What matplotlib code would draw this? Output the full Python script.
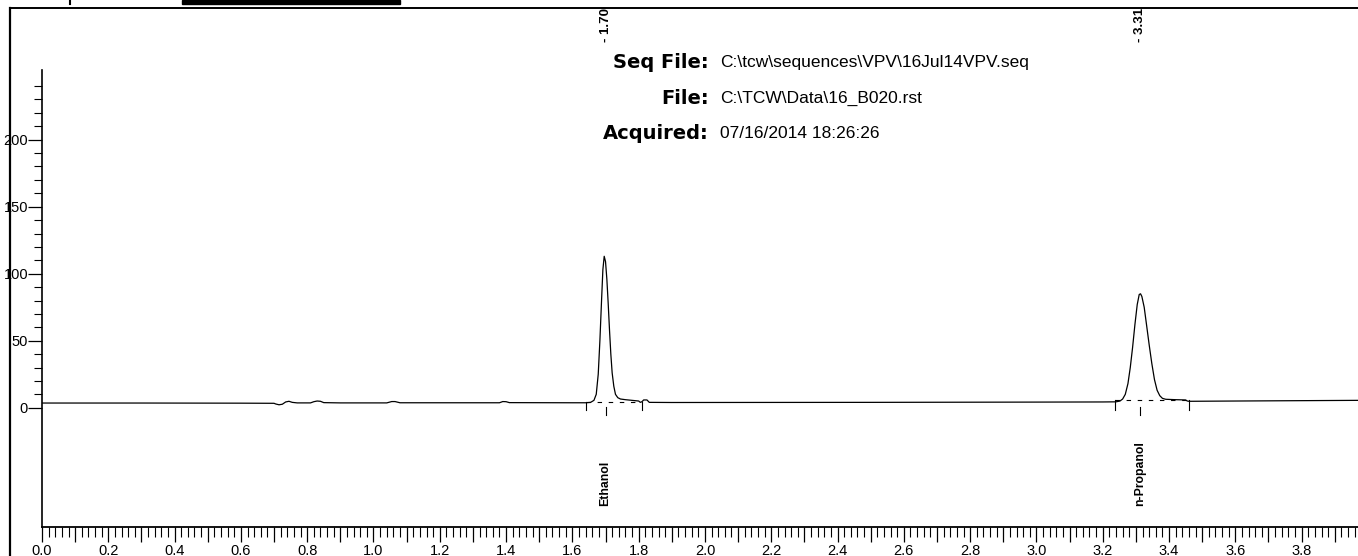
import matplotlib
matplotlib.use('Agg')
import matplotlib.pyplot as plt
import matplotlib.transforms as mtrans
from matplotlib.ticker import FixedLocator, FuncFormatter
from matplotlib.lines import Line2D
from matplotlib.patches import Rectangle

# ---------------- data ----------------
time_min = [0.00, 0.30, 0.60, 0.70, 0.705, 0.715, 0.725, 0.735, 0.745, 0.755, 0.77,
            0.81, 0.82, 0.83, 0.84, 0.85, 0.90, 1.04, 1.055, 1.065, 1.08, 1.38, 1.39,
            1.40, 1.41, 1.60, 1.64, 1.655, 1.665, 1.672, 1.678, 1.683, 1.688, 1.692,
            1.696, 1.700, 1.704, 1.708, 1.712, 1.716, 1.720, 1.725, 1.730, 1.737, 1.745,
            1.76, 1.78, 1.80, 1.805, 1.81, 1.815, 1.825, 1.832, 1.90, 2.50, 3.00, 3.20,
            3.24, 3.252, 3.26, 3.268, 3.276, 3.283, 3.29, 3.297, 3.304, 3.310, 3.314,
            3.318, 3.325, 3.332, 3.34, 3.348, 3.356, 3.364, 3.372, 3.38, 3.39, 3.42,
            3.45, 3.455, 3.46, 3.60, 3.97]
signal_mv = [3.5, 3.5, 3.4, 3.3, 2.8, 2.2, 2.6, 4.3, 4.8, 4.0, 3.6,
             3.6, 4.5, 5.0, 4.8, 3.8, 3.6, 3.6, 4.6, 4.6, 3.7, 3.7, 4.6,
             4.5, 3.8, 3.7, 3.7, 4.0, 5.5, 10.0, 25.0, 50.0, 80.0, 103.0,
             113.0, 109.0, 96.0, 78.0, 58.0, 40.0, 26.0, 16.0, 10.0, 7.5, 6.5,
             6.0, 5.5, 5.0, 4.0, 4.5, 5.8, 5.8, 4.0, 3.9, 4.0, 4.2, 4.3,
             4.4, 5.0, 6.5, 10.0, 18.0, 30.0, 45.0, 62.0, 77.0, 84.5, 85.0,
             83.0, 75.0, 62.0, 47.0, 33.0, 21.0, 13.0, 9.0, 7.0, 6.3, 6.0,
             5.8, 5.0, 4.8, 5.0, 5.5]

peak_names = ['Ethanol', 'n-Propanol']
peak_rt_labels = ['- 1.70', '- 3.31']
peak_times = [1.70, 3.313]
peak_start = [1.642, 3.238]
peak_end = [1.81, 3.459]
peak_base = [4.5, 5.7]

header_keys = ['Seq File:', 'File:', 'Acquired:']
header_vals = [r'C:\tcw\sequences\VPV\16Jul14VPV.seq', r'C:\TCW\Data\16_B020.rst',
               '07/16/2014 18:26:26']

x_major = [round(0.1 * i, 1) for i in range(40)]
y_major = [0, 50, 100, 150, 200]
y_minor = [v for v in range(10, 250, 10) if v % 50 != 0]

# ---------------- figure ----------------
W, H = 1358, 556
fig = plt.figure(figsize=(W / 100, H / 100), dpi=100)
narrow = ['Liberation Sans Narrow', 'Liberation Sans', 'DejaVu Sans']
sans = ['Liberation Sans', 'DejaVu Sans']
wide = ['DejaVu Sans']

x0_px, x1_px = 42, 1358
ytop_px, ybot_px = 70, 527
ax = fig.add_axes([x0_px / W, 1 - ybot_px / H, (x1_px - x0_px) / W, (ybot_px - ytop_px) / H])
ax.set_xlim(0, 3.97)
ax.set_ylim(-89, 252)

ax.plot(time_min, signal_mv, color='black', lw=0.9)

for s, e, b, t in zip(peak_start, peak_end, peak_base, peak_times):
    ax.plot([s, s], [b, -2], color='black', lw=0.8)
    ax.plot([e, e], [b, -2], color='black', lw=0.8)
    ax.plot([s, e], [b, b], color='black', lw=0.8, ls=(0, (4, 6)))
    ax.plot([t, t], [0.7, -5.5], color='black', lw=0.8)

for spine in ['top', 'right']:
    ax.spines[spine].set_visible(False)
ax.spines['left'].set_linewidth(1.2)
ax.spines['bottom'].set_linewidth(1.3)
ax.spines['left'].set_bounds(-89, 252)

ax.xaxis.set_major_locator(FixedLocator(x_major))
ax.xaxis.set_minor_locator(FixedLocator([round(0.02 * i, 2) for i in range(199)]))
ax.xaxis.set_major_formatter(FuncFormatter(
    lambda v, p: f'{v:.1f}' if abs(round(v * 10)) % 2 == 0 else ''))
ax.yaxis.set_major_locator(FixedLocator(y_major))
ax.yaxis.set_minor_locator(FixedLocator(y_minor))
ax.tick_params(axis='x', which='major', direction='out', length=11, width=0.9, pad=1,
               labelsize=10.5)
ax.tick_params(axis='x', which='minor', direction='out', length=7, width=0.8)
ax.tick_params(axis='y', which='major', direction='out', length=10, width=0.9, pad=0,
               labelsize=10.5)
ax.tick_params(axis='y', which='minor', direction='out', length=6, width=0.8)
for lab in ax.get_xticklabels() + ax.get_yticklabels():
    lab.set_fontfamily(narrow)

# peak labels
tr_top = mtrans.blended_transform_factory(ax.transData, fig.transFigure)
for t, rt in zip(peak_times, peak_rt_labels):
    ax.text(t, 1 - 8 / H, rt, transform=tr_top, rotation=90, ha='center', va='top',
            fontsize=9.5, fontweight='bold', family=narrow, clip_on=False)
for t, name in zip(peak_times, peak_names):
    ax.text(t, 1 - 506 / H, name, transform=tr_top, rotation=90, ha='center',
            va='bottom', fontsize=8.8, fontweight='bold', family=sans, clip_on=False)

# header block
for i, (k, v) in enumerate(zip(header_keys, header_vals)):
    yy = 1 - (63 + 35 * i) / H
    fig.text(709 / W, yy, k, ha='right', va='center', fontsize=14, fontweight='bold',
             family=wide)
    fig.text(720 / W, yy, v, ha='left', va='center', fontsize=12.5, family=sans)

# page frame and redaction bar
fig.add_artist(Line2D([10 / W, 10 / W], [0, 1 - 7.5 / H], color='black', lw=1.6,
                      transform=fig.transFigure))
fig.add_artist(Line2D([10 / W, 1], [1 - 7.5 / H, 1 - 7.5 / H], color='black', lw=1.4,
                      transform=fig.transFigure))
fig.add_artist(Rectangle((182 / W, 1 - 4 / H), (400 - 182) / W, 4 / H,
                         color='black', transform=fig.transFigure))
fig.add_artist(Line2D([69.5 / W, 69.5 / W], [1, 1 - 4 / H], color='black', lw=1.5,
                      transform=fig.transFigure))

fig.savefig('out.png', dpi=100)
